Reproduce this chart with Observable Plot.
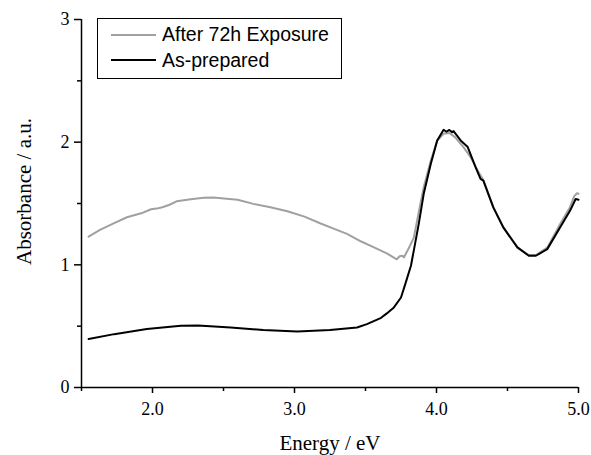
<!DOCTYPE html>
<html>
<head>
<meta charset="utf-8">
<script src="https://cdn.jsdelivr.net/npm/d3@7"></script>
<script src="https://cdn.jsdelivr.net/npm/@observablehq/plot@0.6"></script>
<style>
  html, body { margin: 0; padding: 0; background: #fff; }
  #wrap { position: relative; width: 591px; height: 455px; }
  #wrap svg g[aria-label$="tick label"], #wrap svg g[aria-label$="tick label"] text { font-family: "Liberation Serif", "Times New Roman", serif !important; font-size: 18px !important; font-variant: normal !important; }
  .legend { position: absolute; left: 97px; top: 18px; width: 245px; height: 61px; box-sizing: border-box; border: 1.5px solid #000; background: #fff; font-family: "Liberation Sans", Arial, sans-serif; font-size: 19.5px; color: #000; }
  .row { position: absolute; left: 13px; height: 25px; line-height: 25px; display: flex; align-items: center; white-space: nowrap; }
  .sw { display: inline-block; width: 45px; height: 0; border-top: 2px solid; margin-right: 6px; }
</style>
</head>
<body>
<div id="wrap"></div>
<script>
// Data
const seriesNames = ["After 72h Exposure", "As-prepared"];
const seriesColors = ["#a0a0a0", "#000000"];

const energyExposed = [1.55, 1.63, 1.73, 1.82, 1.92, 1.99, 2.04, 2.07, 2.12, 2.17, 2.27, 2.36, 2.43, 2.54, 2.60, 2.71, 2.83, 2.95, 3.07, 3.18, 3.28, 3.37, 3.47, 3.56, 3.65, 3.72, 3.74, 3.76, 3.77, 3.80, 3.84, 3.875, 3.91, 3.96, 4.005, 4.05, 4.09, 4.13, 4.19, 4.24, 4.29, 4.33, 4.40, 4.47, 4.57, 4.65, 4.70, 4.78, 4.87, 4.94, 4.97, 4.99, 5.0];
const absExposed = [1.23, 1.285, 1.34, 1.388, 1.42, 1.453, 1.462, 1.469, 1.49, 1.518, 1.535, 1.546, 1.549, 1.537, 1.53, 1.497, 1.469, 1.437, 1.393, 1.339, 1.293, 1.252, 1.19, 1.143, 1.094, 1.045, 1.07, 1.074, 1.06, 1.125, 1.22, 1.43, 1.633, 1.851, 2.014, 2.069, 2.075, 2.041, 1.96, 1.878, 1.77, 1.69, 1.47, 1.31, 1.14, 1.08, 1.08, 1.14, 1.33, 1.47, 1.56, 1.583, 1.58];

const energyPrepared = [1.55, 1.73, 1.96, 2.20, 2.32, 2.55, 2.78, 3.02, 3.25, 3.44, 3.51, 3.61, 3.65, 3.70, 3.75, 3.78, 3.82, 3.84, 3.875, 3.91, 3.96, 4.005, 4.05, 4.07, 4.09, 4.11, 4.12, 4.17, 4.22, 4.275, 4.31, 4.33, 4.40, 4.47, 4.57, 4.65, 4.70, 4.78, 4.87, 4.94, 4.98, 5.0];
const absPrepared = [0.395, 0.435, 0.476, 0.503, 0.506, 0.489, 0.468, 0.457, 0.468, 0.489, 0.517, 0.568, 0.604, 0.653, 0.734, 0.843, 0.993, 1.116, 1.334, 1.579, 1.824, 2.014, 2.101, 2.085, 2.10, 2.08, 2.09, 2.014, 1.96, 1.796, 1.70, 1.686, 1.468, 1.305, 1.142, 1.074, 1.074, 1.128, 1.305, 1.44, 1.537, 1.53];

const xMajorTicks = [2.0, 3.0, 4.0, 5.0];
const xMinorTicks = [1.5, 2.5, 3.5, 4.5];
const yMajorTicks = [0, 1, 2, 3];
const yMinorTicks = [0.5, 1.5, 2.5];
const xTitle = "Energy / eV";
const yTitle = "Absorbance / a.u.";

const exposed = energyExposed.map((e, i) => ({E: e, A: absExposed[i]}));
const prepared = energyPrepared.map((e, i) => ({E: e, A: absPrepared[i]}));

const serif = "'Liberation Serif', 'Times New Roman', serif";

const chart = Plot.plot({
  width: 591,
  height: 455,
  marginLeft: 81,
  marginRight: 13,
  marginTop: 19,
  marginBottom: 68,
  x: {domain: [1.5, 5.0]},
  y: {domain: [0, 3]},
  style: {fontFamily: serif, fontSize: "18px", background: "#fff", color: "#000"},
  marks: [
    Plot.line(exposed, {x: "E", y: "A", stroke: seriesColors[0], strokeWidth: 2}),
    Plot.line(prepared, {x: "E", y: "A", stroke: seriesColors[1], strokeWidth: 2}),
    Plot.ruleY([0], {strokeWidth: 1.5}),
    Plot.ruleX([1.5], {strokeWidth: 1.5}),
    Plot.axisY({ticks: yMajorTicks, tickSize: 7, tickPadding: 5, strokeWidth: 1.5, tickFormat: d3.format("d"), label: null, fontSize: 18, fontFamily: serif}),
    Plot.axisY({ticks: yMinorTicks, tickSize: 4, strokeWidth: 1.5, tickFormat: () => "", label: null}),
    Plot.axisX({ticks: xMajorTicks, tickSize: 6, tickPadding: 9, strokeWidth: 1.5, tickFormat: d3.format(".1f"), label: null, fontSize: 18, fontFamily: serif}),
    Plot.axisX({ticks: xMinorTicks, tickSize: 4, strokeWidth: 1.5, tickFormat: () => "", label: null}),
    Plot.text([xTitle], {frameAnchor: "bottom", textAnchor: "middle", lineAnchor: "middle", dy: 56, fontSize: 21, fontFamily: serif, text: d => d}),
    Plot.text([yTitle], {frameAnchor: "left", textAnchor: "middle", lineAnchor: "middle", rotate: -90, dx: -57, dy: -12, fontSize: 21, fontFamily: serif, text: d => d})
  ]
});

const wrap = document.getElementById("wrap");
wrap.appendChild(chart);

const legend = document.createElement("div");
legend.className = "legend";
seriesNames.forEach((name, i) => {
  const row = document.createElement("div");
  row.className = "row";
  row.style.top = (3 + i * 25.6) + "px";
  const sw = document.createElement("span");
  sw.className = "sw";
  sw.style.borderTopColor = seriesColors[i];
  const t = document.createElement("span");
  t.textContent = name;
  row.appendChild(sw);
  row.appendChild(t);
  legend.appendChild(row);
});
wrap.appendChild(legend);
</script>
</body>
</html>
